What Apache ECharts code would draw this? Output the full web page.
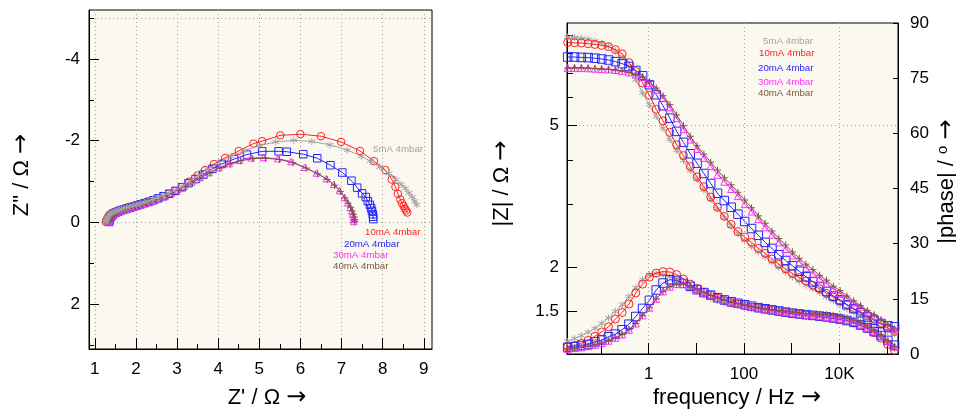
<!DOCTYPE html>
<html><head><meta charset="utf-8">
<script src="https://cdn.jsdelivr.net/npm/echarts@6/dist/echarts.min.js"></script>
<style>html,body{margin:0;padding:0;background:#fff}#chart{width:956px;height:412px}</style>
</head><body><div id="chart"></div>
<script>
// ---------------- data ----------------
const seriesNames = ['5mA 4mbar', '10mA 4mbar', '20mA 4mbar', '30mA 4mbar', '40mA 4mbar'];
const seriesColors = ['#a3a3a3', '#ff2020', '#2424ff', '#ff30ff', '#7a5646'];

const freq = [0.02, 0.0278, 0.0386, 0.0537, 0.0746, 0.1036, 0.1439, 0.2, 0.278, 0.386, 0.537, 0.746,
  1.036, 1.439, 2, 2.78, 3.86, 5.37, 7.46, 10.36, 14.39, 20, 27.8, 38.6, 53.7, 74.6, 103.6, 143.9,
  200, 278, 386, 537, 746, 1036, 1439, 2000, 2780, 3860, 5370, 7460, 10360, 14390, 20000, 27800,
  38600, 53700, 74600, 103600, 143900];

const zmod5 = [8.87, 8.85, 8.81, 8.75, 8.65, 8.54, 8.36, 8.12, 7.80, 7.34, 6.73, 6.18, 5.73, 5.31, 4.92, 4.57,
  4.26, 3.99, 3.74, 3.53, 3.30, 3.10, 2.92, 2.76, 2.62, 2.49, 2.38, 2.29, 2.21, 2.14, 2.07, 2.00, 1.94, 1.88,
  1.83, 1.78, 1.74, 1.70, 1.65, 1.61, 1.57, 1.53, 1.50, 1.47, 1.44, 1.40, 1.36, 1.32, 1.30];
const zmod10 = [8.57, 8.55, 8.54, 8.50, 8.46, 8.41, 8.34, 8.18, 7.96, 7.52, 7.10, 6.59, 6.09, 5.56, 5.16, 4.79,
  4.42, 4.12, 3.84, 3.59, 3.37, 3.15, 2.95, 2.78, 2.64, 2.52, 2.43, 2.35, 2.26, 2.19, 2.11, 2.04, 1.98, 1.92,
  1.87, 1.83, 1.78, 1.74, 1.69, 1.65, 1.61, 1.57, 1.53, 1.50, 1.46, 1.43, 1.39, 1.35, 1.32];
const zmod20 = [7.80, 7.80, 7.78, 7.77, 7.74, 7.70, 7.65, 7.57, 7.47, 7.34, 7.15, 6.91, 6.52, 6.11, 5.69, 5.25,
  4.82, 4.49, 4.17, 3.92, 3.67, 3.44, 3.23, 3.08, 2.95, 2.82, 2.69, 2.57, 2.46, 2.35, 2.26, 2.17, 2.09, 2.02,
  1.95, 1.88, 1.82, 1.76, 1.71, 1.66, 1.62, 1.57, 1.53, 1.49, 1.45, 1.42, 1.39, 1.37, 1.36];
const zmod30 = [7.26, 7.26, 7.26, 7.25, 7.23, 7.21, 7.20, 7.17, 7.12, 7.06, 6.97, 6.85, 6.59, 6.31, 5.99, 5.63,
  5.25, 4.89, 4.57, 4.30, 4.06, 3.85, 3.64, 3.48, 3.32, 3.17, 3.01, 2.87, 2.73, 2.59, 2.47, 2.35, 2.25, 2.16,
  2.07, 1.99, 1.92, 1.86, 1.80, 1.74, 1.69, 1.64, 1.59, 1.55, 1.50, 1.46, 1.42, 1.37, 1.34];
const zmod40 = [7.27, 7.27, 7.27, 7.26, 7.24, 7.22, 7.20, 7.17, 7.12, 7.06, 6.97, 6.85, 6.65, 6.38, 6.07, 5.73,
  5.36, 5.00, 4.67, 4.39, 4.16, 3.95, 3.75, 3.57, 3.41, 3.25, 3.09, 2.94, 2.79, 2.66, 2.53, 2.41, 2.31, 2.21,
  2.12, 2.04, 1.97, 1.90, 1.84, 1.77, 1.72, 1.66, 1.61, 1.56, 1.51, 1.47, 1.42, 1.38, 1.34];

const phase5 = [3.4, 4.2, 5.0, 5.9, 7.0, 8.3, 9.8, 11.6, 13.4, 15.6, 18.0, 20.2, 21.5, 21.9, 21.6, 21.0, 20.1,
  19.0, 18.0, 17.0, 16.0, 15.2, 14.5, 13.9, 13.5, 13.1, 12.8, 12.5, 12.2, 11.9, 11.6, 11.3, 11.0, 10.8, 10.6,
  10.4, 10.2, 10.0, 9.8, 9.6, 9.3, 8.9, 8.4, 7.8, 7.0, 5.9, 4.6, 3.0, 1.5];
const phase10 = [2.0, 2.3, 2.9, 3.7, 4.8, 6.0, 7.4, 9.5, 11.3, 13.6, 16.6, 19.0, 20.9, 22.0, 22.4, 22.3, 21.6,
  20.4, 19.0, 17.8, 16.8, 16.0, 15.2, 14.6, 14.0, 13.6, 13.2, 12.8, 12.5, 12.2, 11.9, 11.6, 11.3, 11.0, 10.8,
  10.6, 10.4, 10.2, 10.0, 9.8, 9.5, 9.1, 8.5, 7.8, 6.9, 5.8, 4.3, 2.6, 1.0];
const phase20 = [1.8, 2.0, 2.3, 2.6, 3.3, 3.8, 4.7, 5.4, 6.6, 8.1, 10.2, 12.4, 14.6, 17.4, 19.3, 20.2, 20.0,
  19.2, 18.4, 17.5, 16.7, 16.0, 15.3, 14.7, 14.2, 13.8, 13.4, 13.0, 12.6, 12.3, 12.0, 11.7, 11.4, 11.1, 10.9,
  10.7, 10.5, 10.3, 10.1, 9.8, 9.5, 9.1, 8.6, 7.9, 7.1, 6.1, 5.0, 3.7, 2.4];
const phase30 = [1.4, 1.6, 1.8, 2.1, 2.5, 3.0, 3.6, 4.4, 5.3, 6.6, 8.3, 10.5, 12.6, 15.0, 17.0, 18.3, 19.0,
  19.0, 18.5, 17.6, 16.7, 15.9, 15.2, 14.6, 14.1, 13.7, 13.3, 12.9, 12.6, 12.3, 12.0, 11.7, 11.4, 11.1, 10.9,
  10.7, 10.5, 10.3, 10.1, 9.9, 9.6, 9.2, 8.7, 8.0, 7.2, 6.2, 5.0, 3.5, 2.0];
const phase40 = [1.4, 1.6, 1.8, 2.1, 2.5, 3.0, 3.6, 4.4, 5.3, 6.6, 8.3, 10.5, 12.6, 15.0, 17.0, 18.3, 19.0,
  19.0, 18.5, 17.6, 16.7, 15.9, 15.2, 14.6, 14.1, 13.7, 13.3, 12.9, 12.6, 12.3, 12.0, 11.8, 11.6, 11.4, 11.2,
  11.0, 10.9, 10.8, 10.7, 10.5, 10.2, 9.8, 9.2, 8.5, 7.6, 6.5, 5.2, 3.6, 1.9];

// Nyquist points [Z', Z''] (Z'' negative = capacitive), from low to high frequency
const nyq5 = [[8.83,-0.43],[8.78,-0.52],[8.72,-0.62],[8.64,-0.72],[8.55,-0.83],[8.45,-0.93],[8.32,-1.05],
  [8.15,-1.20],[7.93,-1.36],[7.70,-1.50],[7.48,-1.62],[7.14,-1.77],[6.72,-1.90],[6.28,-1.98],[5.84,-2.01],
  [5.40,-1.97],[5.00,-1.88],[4.65,-1.76],[4.32,-1.62],[4.02,-1.46],[3.75,-1.30],[3.52,-1.15],[3.30,-1.00],
  [3.12,-0.88],[2.95,-0.78],[2.80,-0.71],[2.66,-0.65],[2.53,-0.60],[2.41,-0.56],[2.30,-0.52],[2.20,-0.49],
  [2.10,-0.46],[2.01,-0.43],[1.93,-0.41],[1.85,-0.39],[1.78,-0.37],[1.71,-0.35],[1.65,-0.33],[1.59,-0.31],
  [1.54,-0.29],[1.49,-0.27],[1.44,-0.25],[1.40,-0.23],[1.36,-0.20],[1.33,-0.16],[1.31,-0.12],[1.29,-0.08],
  [1.28,-0.04],[1.27,-0.01]];
const nyq10 = [[8.60,-0.24],[8.57,-0.29],[8.54,-0.34],[8.51,-0.40],[8.47,-0.47],[8.43,-0.56],[8.37,-0.70],
  [8.31,-0.87],[8.22,-1.05],[8.07,-1.28],[7.79,-1.50],[7.45,-1.75],[6.99,-1.97],[6.50,-2.11],[6.00,-2.16],
  [5.51,-2.13],[5.07,-1.99],[4.86,-1.93],[4.50,-1.75],[4.17,-1.58],[3.90,-1.43],[3.68,-1.28],[3.50,-1.15],
  [3.30,-1.00],[3.12,-0.87],[2.95,-0.77],[2.80,-0.70],[2.66,-0.64],[2.53,-0.59],[2.41,-0.55],[2.30,-0.51],
  [2.20,-0.48],[2.10,-0.45],[2.01,-0.42],[1.93,-0.40],[1.85,-0.38],[1.78,-0.36],[1.71,-0.34],[1.65,-0.32],
  [1.59,-0.30],[1.54,-0.28],[1.49,-0.26],[1.44,-0.24],[1.40,-0.22],[1.36,-0.19],[1.33,-0.15],[1.31,-0.11],
  [1.29,-0.07],[1.28,-0.04],[1.27,-0.01]];
const nyq20 = [[7.77,-0.08],[7.77,-0.14],[7.76,-0.20],[7.74,-0.28],[7.72,-0.35],[7.69,-0.43],[7.64,-0.52],
  [7.59,-0.62],[7.50,-0.71],[7.38,-0.85],[7.24,-1.02],[7.02,-1.22],[6.73,-1.40],[6.41,-1.57],[6.07,-1.67],
  [5.67,-1.73],[5.47,-1.74],[5.07,-1.74],[4.70,-1.66],[4.39,-1.55],[4.09,-1.43],[3.86,-1.31],[3.64,-1.17],
  [3.45,-1.06],[3.28,-0.96],[3.12,-0.86],[2.96,-0.77],[2.81,-0.70],[2.67,-0.64],[2.54,-0.59],[2.42,-0.54],
  [2.31,-0.50],[2.21,-0.47],[2.11,-0.44],[2.02,-0.41],[1.94,-0.38],[1.86,-0.36],[1.79,-0.34],[1.73,-0.32],
  [1.67,-0.30],[1.61,-0.28],[1.56,-0.26],[1.51,-0.24],[1.47,-0.22],[1.44,-0.19],[1.41,-0.16],[1.39,-0.13],
  [1.37,-0.09],[1.36,-0.06],[1.35,-0.03],[1.35,-0.01]];
const nyq30 = [[7.30,-0.02],[7.30,-0.07],[7.29,-0.13],[7.27,-0.20],[7.25,-0.28],[7.21,-0.37],[7.15,-0.48],
  [7.07,-0.61],[6.95,-0.78],[6.81,-0.93],[6.63,-1.07],[6.39,-1.21],[6.10,-1.35],[5.77,-1.49],[5.45,-1.56],
  [5.10,-1.59],[4.80,-1.58],[4.52,-1.52],[4.27,-1.44],[4.02,-1.34],[3.78,-1.22],[3.56,-1.10],[3.36,-0.99],
  [3.18,-0.89],[3.01,-0.80],[2.86,-0.72],[2.72,-0.65],[2.59,-0.60],[2.47,-0.55],[2.36,-0.51],[2.25,-0.47],
  [2.15,-0.44],[2.06,-0.41],[1.97,-0.38],[1.89,-0.36],[1.82,-0.34],[1.75,-0.32],[1.69,-0.30],[1.63,-0.28],
  [1.58,-0.26],[1.53,-0.24],[1.49,-0.22],[1.45,-0.20],[1.42,-0.17],[1.40,-0.14],[1.38,-0.11],[1.37,-0.07],
  [1.36,-0.04],[1.35,-0.01]];
const nyq40 = [[7.32,-0.02],[7.32,-0.07],[7.31,-0.13],[7.29,-0.20],[7.26,-0.28],[7.22,-0.37],[7.16,-0.47],
  [7.08,-0.60],[6.97,-0.76],[6.83,-0.91],[6.65,-1.05],[6.42,-1.19],[6.14,-1.33],[5.82,-1.46],[5.49,-1.54],
  [5.15,-1.57],[4.84,-1.56],[4.55,-1.51],[4.29,-1.43],[4.04,-1.33],[3.80,-1.21],[3.58,-1.09],[3.38,-0.98],
  [3.20,-0.88],[3.03,-0.79],[2.88,-0.71],[2.74,-0.65],[2.61,-0.60],[2.49,-0.55],[2.38,-0.51],[2.27,-0.47],
  [2.17,-0.44],[2.08,-0.41],[1.99,-0.38],[1.91,-0.36],[1.84,-0.34],[1.77,-0.32],[1.71,-0.30],[1.65,-0.28],
  [1.60,-0.26],[1.55,-0.24],[1.51,-0.22],[1.47,-0.20],[1.44,-0.17],[1.41,-0.14],[1.39,-0.11],[1.37,-0.07],
  [1.36,-0.04],[1.35,-0.01]];

// tick / label values
const reLabelTicks = [1, 2, 3, 4, 5, 6, 7, 8, 9];
const reMinorTicks = [1.5, 2.5, 3.5, 4.5, 5.5, 6.5, 7.5, 8.5];
const imLabelTicks = [-4, -2, 0, 2];
const imMinorTicks = [-5, -3, -1, 1, 3];
const imGridLines = [-5, 0];
const freqTicks = [0.1, 1, 10, 100, 1000, 10000, 100000];
const freqLabelTicks = [1, 100, 10000];
const freqLabelText = ['1', '100', '10K'];
const zmodLabelTicks = [1.5, 2, 5];
const zmodLabelText = ['1.5', '2', '5'];
const zmodMinorTicks = [3, 4, 6, 7, 8, 9];
const zmodGridLines = [5];

// ---------------- chart ----------------
const FONT = "'Liberation Sans', Arial, Helvetica, sans-serif";
const STAR = 'path://M5,0L5,10M0.67,2.5L9.33,7.5M0.67,7.5L9.33,2.5';
const PLUS = 'path://M5,0L5,10M0,5L10,5';
const symbols = [STAR, 'circle', 'rect', 'triangle', PLUS];
const nyqSizes = [7, 7.5, 7.5, 6.5, 7];
const bodeSizes = [7, 8, 8.5, 7, 7];

const chart = echarts.init(document.getElementById('chart'), null, {renderer: 'canvas', width: 956, height: 412});

function nearestLabel(v, vals, texts) {
  for (let i = 0; i < vals.length; i++) {
    if (Math.abs(Math.log10(v) - Math.log10(vals[i])) < 1e-4) return texts[i];
  }
  return '';
}

const labelFont = {fontFamily: FONT, fontSize: 17, color: '#000'};
const black = {color: '#000', width: 1};
const gridLine = {show: true, lineStyle: {color: '#a0a0a0', width: 1, type: [1, 3]}};

function mkSeries(data, xi, yi, k, size, z) {
  const c = seriesColors[k];
  return {
    type: 'line', name: seriesNames[k], xAxisIndex: xi, yAxisIndex: yi, data: data,
    symbol: symbols[k], symbolSize: size, showSymbol: true, showAllSymbol: true,
    lineStyle: {color: c, width: 1},
    itemStyle: {color: 'rgba(0,0,0,0)', borderColor: c, borderWidth: 1},
    emphasis: {disabled: true}, silent: true, animation: false, z: z
  };
}

const nyqData = [nyq5, nyq10, nyq20, nyq30, nyq40];
const zmodData = [zmod5, zmod10, zmod20, zmod30, zmod40];
const phaseData = [phase5, phase10, phase20, phase30, phase40];

const series = [];
// Nyquist: gray drawn last
[1, 2, 3, 4, 0].forEach((k, j) => series.push(mkSeries(nyqData[k], 0, 0, k, nyqSizes[k], 2 + j)));
// Bode: gray drawn first
[0, 1, 2, 3, 4].forEach((k, j) => {
  series.push(mkSeries(freq.map((f, i) => [f, zmodData[k][i]]), 2, 3, k, bodeSizes[k], 2 + j));
  series.push(mkSeries(freq.map((f, i) => [f, phaseData[k][i]]), 2, 6, k, bodeSizes[k], 2 + j));
});

// legends as text
const leftLegendPos = [[373, 149], [365, 232.5], [344, 244], [333, 255], [333, 266]];
const rightLegendPos = [[763, 41], [759, 53], [758, 68], [758, 82], [758, 93]];
const graphic = [];
seriesNames.forEach((n, k) => {
  [leftLegendPos, rightLegendPos].forEach(pos => {
    graphic.push({type: 'text', x: pos[k][0], y: pos[k][1], silent: true, z: 100,
      style: {text: n, fill: seriesColors[k], font: '9.7px ' + FONT, align: 'left', verticalAlign: 'middle',
        textAlign: 'left', textVerticalAlign: 'middle'}});
  });
});
const arrowRich = {fontSize: 24, fontFamily: "'DejaVu Sans', sans-serif", fill: '#000'};
function title(text, x, y, rot, extraRich) {
  const rich = Object.assign({a: arrowRich}, extraRich || {});
  const st = {text: text, fill: '#000', font: '22px ' + FONT, align: 'center', verticalAlign: 'middle',
    textAlign: 'center', textVerticalAlign: 'middle', rich: rich};
  return {type: 'text', x: x, y: y, rotation: rot, silent: true, z: 100, style: st};
}
graphic.push(title("Z' / Ω {a|→}", 267, 398, 0));
graphic.push(title('Z" / Ω {a|→}', 22, 175, Math.PI / 2));
graphic.push(title('frequency / Hz {a|→}', 737, 398, 0));
graphic.push(title('|Z| / Ω {a|→}', 502, 183.5, Math.PI / 2));
graphic.push(title('|phase| / {s|o} {a|→}', 947, 181.5, Math.PI / 2,
  {s: {fontSize: 15, fontFamily: FONT, fill: '#000', verticalAlign: 'top', padding: [0, 0, 8, 0]}}));

const gridCommon = {show: true, backgroundColor: '#fbf8f0', borderColor: '#000', borderWidth: 1,
  containLabel: false, outerBoundsMode: 'none'};

const option = {
  animation: false,
  backgroundColor: '#ffffff',
  grid: [
    Object.assign({left: 89, top: 10, width: 343, height: 339}, gridCommon),
    Object.assign({left: 567, top: 23, width: 331, height: 331}, gridCommon)
  ],
  xAxis: [
    { // 0 Nyquist Z'
      type: 'value', gridIndex: 0, position: 'bottom', min: 0.86, max: 9.2,
      axisLine: {show: true, onZero: false, lineStyle: black},
      axisTick: {show: true, inside: true, length: 11, customValues: reLabelTicks, lineStyle: black},
      axisLabel: Object.assign({show: true, margin: 12, customValues: reLabelTicks}, labelFont),
      splitLine: gridLine
    },
    { // 1 Nyquist minor ticks
      type: 'value', gridIndex: 0, position: 'bottom', min: 0.86, max: 9.2,
      axisLine: {show: false, onZero: false},
      axisTick: {show: true, inside: true, length: 5, customValues: reMinorTicks, lineStyle: black},
      axisLabel: {show: false}, splitLine: {show: false}
    },
    { // 2 frequency
      type: 'log', logBase: 10, gridIndex: 1, position: 'bottom', min: 0.01936, max: 169800,
      axisLine: {show: true, onZero: false, lineStyle: black},
      axisTick: {show: true, inside: true, length: 11, customValues: freqTicks, lineStyle: black},
      axisLabel: Object.assign({show: true, margin: 12, customValues: freqLabelTicks,
        formatter: v => nearestLabel(v, freqLabelTicks, freqLabelText)}, labelFont),
      splitLine: {show: false}
    },
    { // 3 frequency grid lines
      type: 'log', logBase: 10, gridIndex: 1, position: 'bottom', min: 0.01936, max: 169800,
      axisLine: {show: false, onZero: false},
      axisTick: {show: false, customValues: freqLabelTicks},
      axisLabel: {show: false}, splitLine: gridLine
    }
  ],
  yAxis: [
    { // 0 Nyquist Z''
      type: 'value', gridIndex: 0, position: 'left', inverse: true, min: -5.2, max: 3.1,
      axisLine: {show: true, onZero: false, lineStyle: black},
      axisTick: {show: true, inside: true, length: 10, customValues: imLabelTicks, lineStyle: black},
      axisLabel: Object.assign({show: true, margin: 9, customValues: imLabelTicks}, labelFont),
      splitLine: {show: false}
    },
    { // 1 Nyquist minor
      type: 'value', gridIndex: 0, position: 'left', inverse: true, min: -5.2, max: 3.1,
      axisLine: {show: false, onZero: false},
      axisTick: {show: true, inside: true, length: 5, customValues: imMinorTicks, lineStyle: black},
      axisLabel: {show: false}, splitLine: {show: false}
    },
    { // 2 Nyquist grid lines
      type: 'value', gridIndex: 0, position: 'left', inverse: true, min: -5.2, max: 3.1,
      axisLine: {show: false, onZero: false},
      axisTick: {show: false, customValues: imGridLines},
      axisLabel: {show: false}, splitLine: gridLine
    },
    { // 3 |Z|
      type: 'log', logBase: 10, gridIndex: 1, position: 'left', min: 1.141, max: 9.72,
      axisLine: {show: true, onZero: false, lineStyle: black},
      axisTick: {show: true, inside: true, length: 10, customValues: zmodLabelTicks, lineStyle: black},
      axisLabel: Object.assign({show: true, margin: 8, customValues: zmodLabelTicks,
        formatter: v => nearestLabel(v, zmodLabelTicks, zmodLabelText)}, labelFont),
      splitLine: {show: false}
    },
    { // 4 |Z| minor
      type: 'log', logBase: 10, gridIndex: 1, position: 'left', min: 1.141, max: 9.72,
      axisLine: {show: false, onZero: false},
      axisTick: {show: true, inside: true, length: 6, customValues: zmodMinorTicks, lineStyle: black},
      axisLabel: {show: false}, splitLine: {show: false}
    },
    { // 5 |Z| grid line
      type: 'log', logBase: 10, gridIndex: 1, position: 'left', min: 1.141, max: 9.72,
      axisLine: {show: false, onZero: false},
      axisTick: {show: false, customValues: zmodGridLines},
      axisLabel: {show: false}, splitLine: gridLine
    },
    { // 6 phase
      type: 'value', gridIndex: 1, position: 'right', min: 0, max: 90, interval: 15,
      axisLine: {show: true, onZero: false, lineStyle: black},
      axisTick: {show: true, inside: true, length: 5, lineStyle: black},
      axisLabel: Object.assign({show: true, margin: 12}, labelFont),
      splitLine: {show: false}
    }
  ],
  graphic: graphic,
  series: series
};
chart.setOption(option);
</script>
</body></html>
